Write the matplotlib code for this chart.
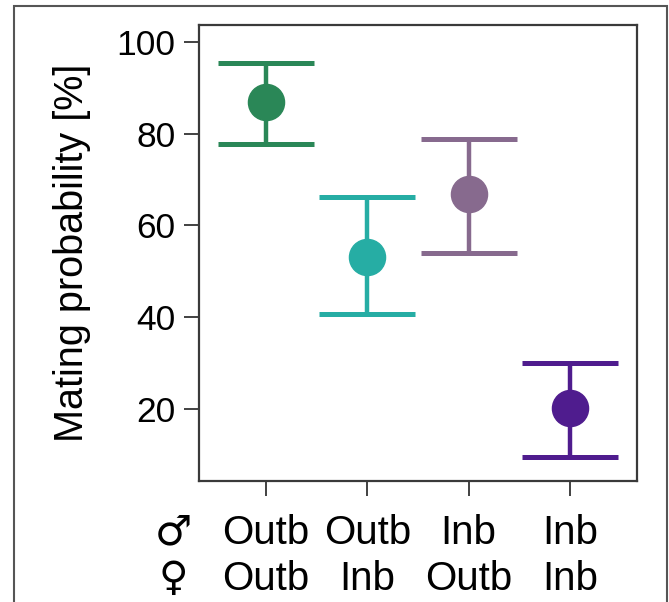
import matplotlib
matplotlib.use("Agg")
import matplotlib.pyplot as plt
from matplotlib.patches import Rectangle

# Data
male = ["Outb", "Outb", "Inb", "Inb"]
female = ["Outb", "Inb", "Outb", "Inb"]
means = [86.9, 53.2, 66.9, 20.2]
lower = [77.8, 40.7, 54.1, 9.5]
upper = [95.4, 66.1, 78.9, 30.0]
colors = ["#2a8757", "#26ada4", "#876a8e", "#4f1c8e"]
yticks = [20, 40, 60, 80, 100]

plt.rcParams["font.family"] = ["Liberation Sans", "DejaVu Sans"]

fig = plt.figure(figsize=(6.69, 6.02), dpi=100)
ax = fig.add_axes([0.2975, 0.201, 0.6547, 0.7575])

# outer frame
fig.patches.append(Rectangle((14 / 669, -0.1), (667 - 14) / 669, 1.1 - 6 / 602,
                             transform=fig.transFigure, fill=False,
                             edgecolor="#555555", linewidth=1.5))

xs = list(range(1, len(means) + 1))
for x, m, lo, hi, c in zip(xs, means, lower, upper, colors):
    ax.errorbar([x], [m], yerr=[[m - lo], [hi - m]], fmt="o", color=c,
                ecolor=c, elinewidth=3.2, capsize=34.5, capthick=3.6,
                markersize=26)

ax.set_xlim(0.34, 4.66)
ax.set_ylim(4.3, 103.7)
ax.set_yticks(yticks)
ax.set_yticklabels([str(v) for v in yticks], fontsize=25.5)
ax.set_xticks(xs)
ax.set_xticklabels([])
ax.tick_params(axis="both", length=11, width=1.3, color="#333333", pad=6)

for s in ax.spines.values():
    s.set_linewidth(1.6)
    s.set_color("#3a3a3a")

ax.set_ylabel("Mating probability [%]", fontsize=28.5)
ax.yaxis.set_label_coords(-0.246, 0.5)

tr = ax.get_xaxis_transform()
for x, ml, fl in zip(xs, male, female):
    ax.text(x, -0.138, ml, transform=tr, ha="center", va="baseline", fontsize=29)
    ax.text(x, -0.240, fl, transform=tr, ha="center", va="baseline", fontsize=29)

sx = (173 - 199) / 438
ax.text(sx, -0.138, "\u2642", transform=ax.transAxes, ha="center", va="baseline",
        fontsize=30, family="DejaVu Sans")
ax.text(sx, -0.240, "\u2640", transform=ax.transAxes, ha="center", va="baseline",
        fontsize=29, family="DejaVu Sans")

fig.savefig("out.png", dpi=100)
